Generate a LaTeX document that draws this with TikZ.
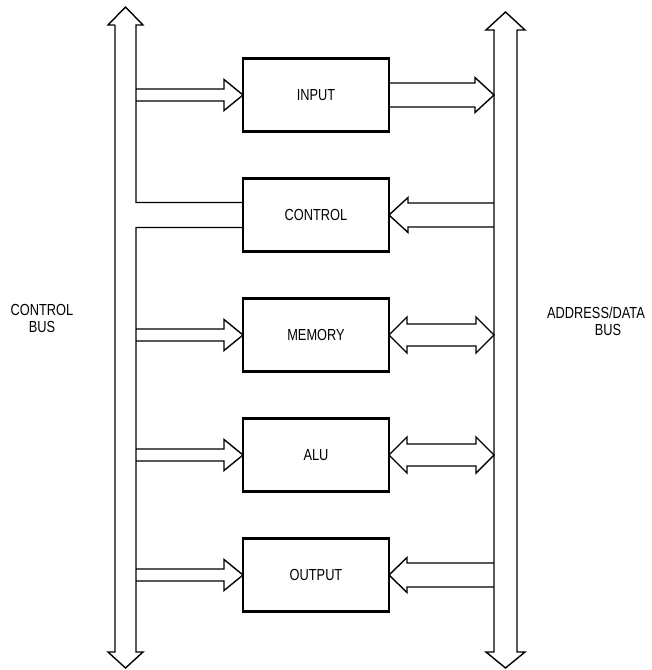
\documentclass[tikz,border=0pt]{standalone}
\usepackage{fontspec}
\setmainfont{Liberation Sans}[FakeStretch=0.8]
\usetikzlibrary{positioning, calc}

% fat arrow: #1 tail, #2 tip, #3 half shaft, #4 half head, #5 offset tip -> head base
\newcommand{\fatarrow}[5]{%
  \draw[bus] ($(#1)+(0,-#3)$) -- ($(#2)+(#5,-#3)$) -- ($(#2)+(#5,-#4)$) -- (#2)
    -- ($(#2)+(#5,#4)$) -- ($(#2)+(#5,#3)$) -- ($(#1)+(0,#3)$);}
% double fat arrow: #1 left tip, #2 right tip, #3 half shaft, #4 half head, #5 head length
\newcommand{\dblarrow}[5]{%
  \draw[bus] (#1) -- ($(#1)+(#5,-#4)$) -- ($(#1)+(#5,-#3)$) -- ($(#2)+(-#5,-#3)$)
    -- ($(#2)+(-#5,-#4)$) -- (#2) -- ($(#2)+(-#5,#4)$) -- ($(#2)+(-#5,#3)$)
    -- ($(#1)+(#5,#3)$) -- ($(#1)+(#5,#4)$) -- cycle;}

\begin{document}
\begin{tikzpicture}[
  x=1pt, y=-1pt,
  unit/.style={draw, line width=2.4pt, minimum width=146pt, minimum height=73pt, outer sep=0pt, font=\fontsize{16}{16}\selectfont},
  bus/.style={line width=1.4pt, line join=miter},
  buslabel/.style={align=center, inner sep=1pt, font=\fontsize{16}{17}\selectfont}
]
\useasboundingbox (0,0) rectangle (652,670);

% Units
\node[unit] (input) at (316,95) {INPUT};
\node[unit, below=47pt of input] (control) {CONTROL};
\node[unit, below=47pt of control] (memory) {MEMORY};
\node[unit, below=47pt of memory] (alu) {ALU};
\node[unit, below=47pt of alu] (output) {OUTPUT};

% Bus labels
\node[buslabel] (cbus) at (42,318) {CONTROL\\BUS};
\node[buslabel] (abus) at (596,321) {ADDRESS/DATA\\\hspace*{24pt}BUS};

% inner lines of the buses
\coordinate (lbin) at (136,0);
\coordinate (rbin) at (494,0);

% Control bus
\draw[bus] (115,25) -- (108,25) -- (125.5,7) -- (143,25) -- (136,25)
  -- ($(lbin |- control.west)+(0,-12.5)$) -- ($(control.west)+(0,-12.5)$);
\draw[bus] ($(control.west)+(0,12.5)$) -- ($(lbin |- control.west)+(0,12.5)$)
  -- (136,652) -- (143,652) -- (125.5,668) -- (108,652) -- (115,652) -- (115,25);

% Address/data bus
\draw[bus] (494,652) -- (494,30) -- (486,30) -- (505.5,12) -- (525,30) -- (517,30)
  -- (517,652) -- (525,652) -- (505.5,668) -- (486,652) -- cycle;

% Control lines
\fatarrow{lbin |- input.west}{input.west}{6}{15.5}{-19}
\fatarrow{lbin |- memory.west}{memory.west}{6}{15.5}{-19}
\fatarrow{lbin |- alu.west}{alu.west}{6}{15.5}{-19}
\fatarrow{lbin |- output.west}{output.west}{6}{15.5}{-19}

% Address/data lines
\fatarrow{input.east}{rbin |- input.east}{12}{17.5}{-19}
\fatarrow{rbin |- control.east}{control.east}{12}{17.5}{19}
\dblarrow{memory.east}{rbin |- memory.east}{11}{18}{18}
\dblarrow{alu.east}{rbin |- alu.east}{11}{18}{18}
\fatarrow{rbin |- output.east}{output.east}{12}{17.5}{18}
\end{tikzpicture}
\end{document}
